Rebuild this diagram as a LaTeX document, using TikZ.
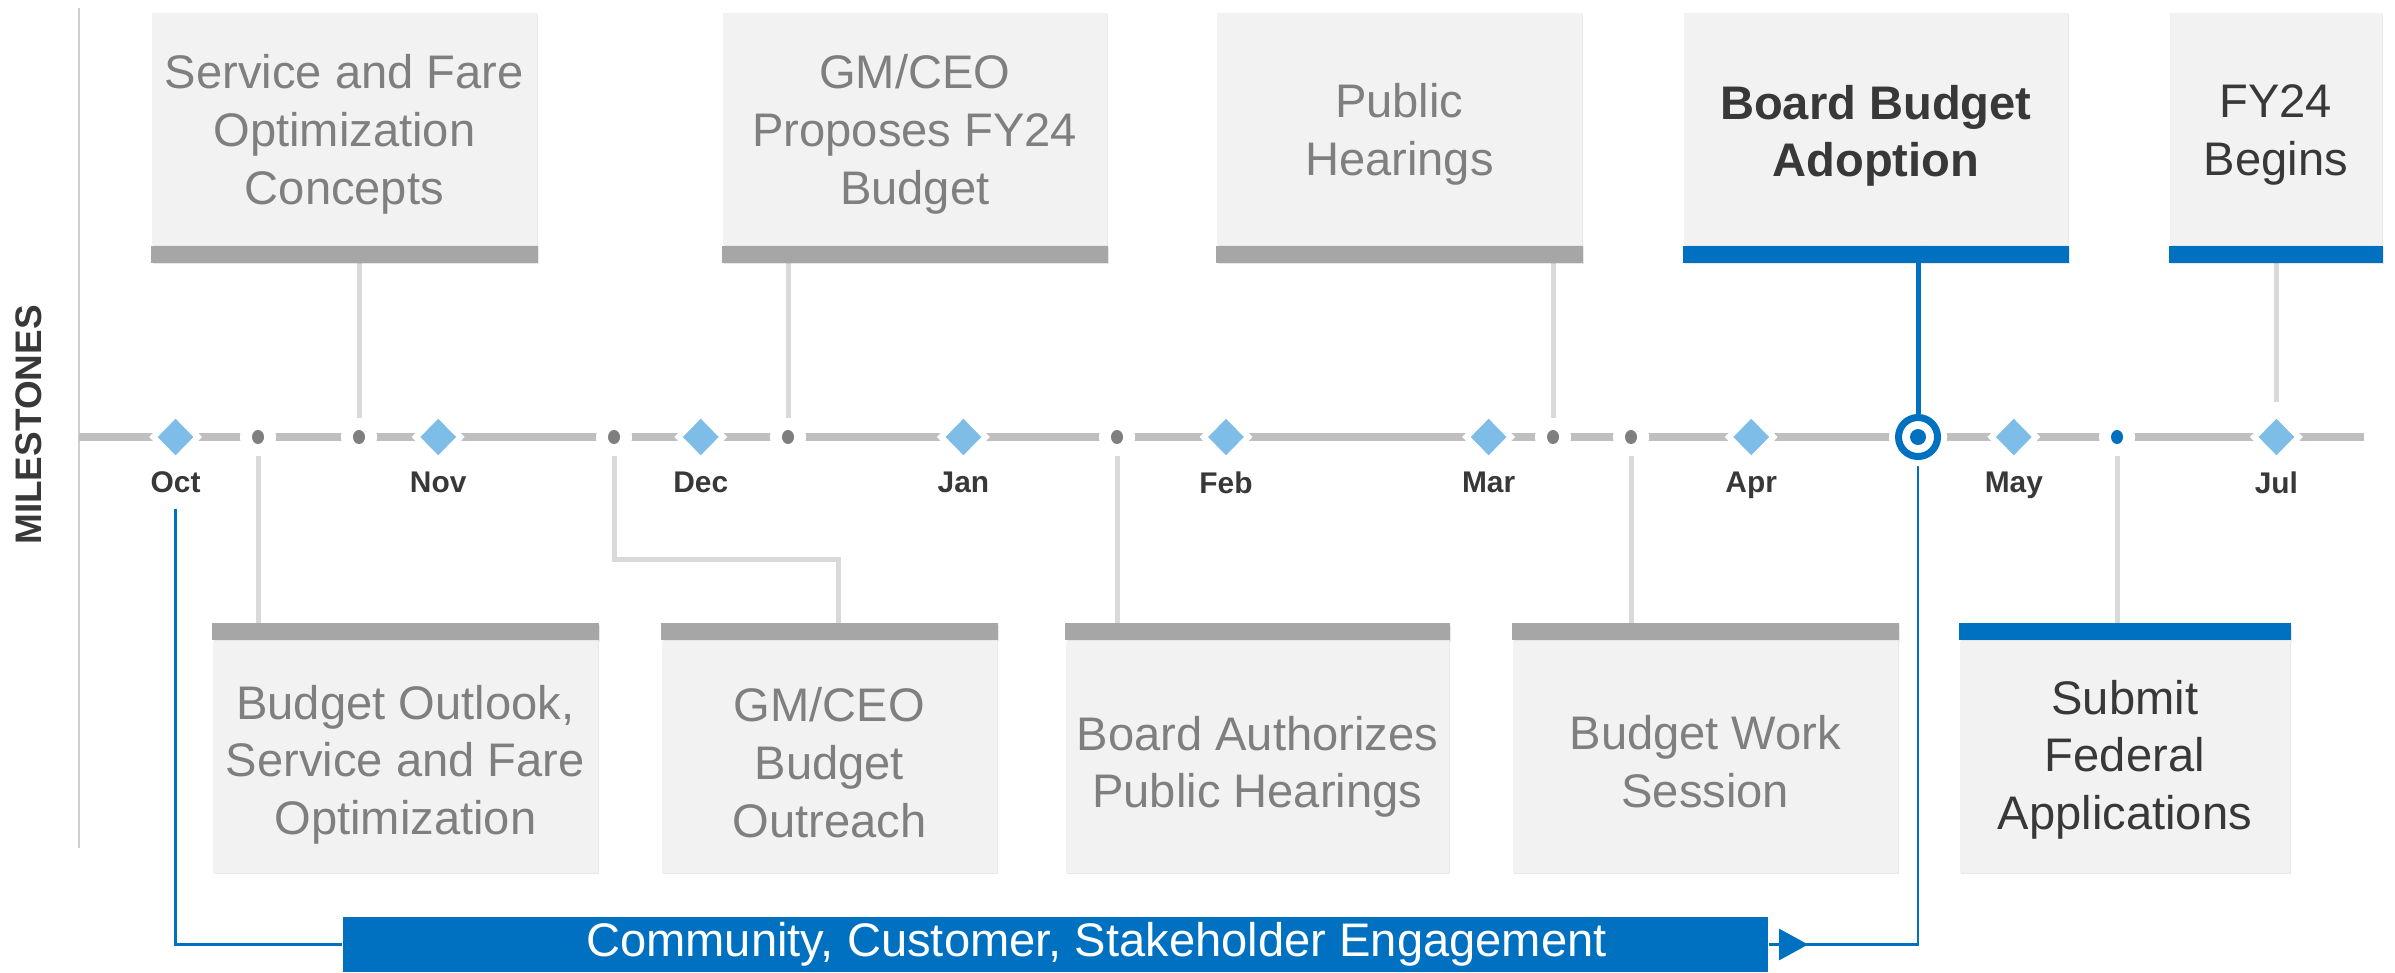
\documentclass[tikz,border=0pt]{standalone}
\usepackage{fontspec}
\setmainfont{Liberation Sans}
\usetikzlibrary{positioning,shapes.geometric,arrows.meta,backgrounds,shadows}

\definecolor{boxfill}{HTML}{F2F2F2}
\definecolor{bargray}{HTML}{A6A6A6}
\definecolor{corpblue}{HTML}{0070C0}
\definecolor{mileblue}{HTML}{7DBDE8}
\definecolor{txtgray}{HTML}{7F7F7F}
\definecolor{txtdark}{HTML}{383838}
\definecolor{dotgray}{HTML}{7F7F7F}
\definecolor{linegray}{HTML}{D9D9D9}
\definecolor{trackgray}{HTML}{BFBFBF}
\definecolor{axisgray}{HTML}{CFCFCF}

\newcommand{\boxfont}{\fontsize{13.4}{16.4}\selectfont}
\newcommand{\monthfont}{\fontsize{8.5}{10}\selectfont\bfseries}

\tikzset{
  boxshadow/.style={drop shadow={shadow xshift=0.015cm, shadow yshift=-0.015cm, opacity=0.18}},
  box/.style={fill=boxfill, inner sep=0pt, minimum height=2.32cm, anchor=north west, boxshadow},
  boxlabel/.style={font=\boxfont, text=txtgray, align=center, inner sep=0pt},
  barbelow/.style={append after command={\pgfextra{\fill[#1, boxshadow] (\tikzlastnode.south west) rectangle ([yshift=-0.17cm]\tikzlastnode.south east);}}},
  barabove/.style={append after command={\pgfextra{\fill[#1, boxshadow] ([yshift=0.17cm]\tikzlastnode.north west) rectangle (\tikzlastnode.north east);}}},
  mile/.style={diamond, fill=mileblue, draw=white, line width=0.06cm, inner sep=0pt,
    minimum width=0.47cm, minimum height=0.48cm},
  month/.style={font=\monthfont, text=txtdark, inner sep=0pt},
  evtdot/.style={circle, fill=white, inner sep=0pt, minimum size=0.36cm,
    path picture={\fill[#1] (path picture bounding box.center) ellipse (0.06cm and 0.07cm);}},
  track/.style={draw=trackgray, line width=0.08cm},
  conn/.style={draw=linegray, line width=0.05cm},
  flow/.style={draw=corpblue, line width=0.027cm},
}

\begin{document}
\begin{tikzpicture}[x=0.01cm, y=-0.01cm]
\useasboundingbox (0,0) rectangle (2395,972);

% side title
\node[rotate=90, font=\fontsize{10.5}{12}\selectfont\bfseries, text=txtdark] (title) at (29,425) {MILESTONES};

% boxes above the track
\node[box, barbelow=bargray, minimum width=3.85cm,
  label={[boxlabel, yshift=-0.055cm]center:Service and Fare\\Optimization\\Concepts}] (tSvc) at (151,12) {};
\node[box, barbelow=bargray, minimum width=3.84cm,
  label={[boxlabel, yshift=-0.055cm]center:GM/CEO\\Proposes FY24\\Budget}] (tProp) at (722,12) {};
\node[box, barbelow=bargray, minimum width=3.65cm,
  label={[boxlabel, yshift=-0.055cm]center:Public\\Hearings}] (tHear) at (1216,12) {};
\node[box, barbelow=corpblue, minimum width=3.84cm,
  label={[boxlabel, text=txtdark, font=\boxfont\bfseries, yshift=-0.07cm]center:Board Budget\\Adoption}] (tAdopt) at (1683,12) {};
\node[box, barbelow=corpblue, minimum width=2.12cm,
  label={[boxlabel, text=txtdark, yshift=-0.06cm]center:FY24\\Begins}] (tFY) at (2169,12) {};

% boxes below the track
\node[box, barabove=bargray, minimum width=3.85cm,
  label={[boxlabel, yshift=-0.08cm]center:Budget Outlook,\\Service and Fare\\Optimization}] (bOutlook) at (212,640) {};
\node[box, barabove=bargray, minimum width=3.35cm,
  label={[boxlabel, yshift=-0.06cm]center:GM/CEO\\Budget\\Outreach}] (bOutreach) at (661,640) {};
\node[box, barabove=bargray, minimum width=3.83cm,
  label={[boxlabel, yshift=-0.1cm]center:Board Authorizes\\Public Hearings}] (bAuth) at (1065,640) {};
\node[box, barabove=bargray, minimum width=3.85cm,
  label={[boxlabel, yshift=-0.05cm]center:Budget Work\\Session}] (bWork) at (1512,640) {};
\node[box, barabove=corpblue, minimum width=3.30cm,
  label={[boxlabel, text=txtdark, yshift=-0.03cm]center:Submit\\Federal\\Applications}] (bFed) at (1959,640) {};

% months
\node[mile] (dOct) at (175.6,437) {};
\node[mile] (dNov) at (438.2,437) {};
\node[mile] (dDec) at (700.8,437) {};
\node[mile] (dJan) at (963.4,437) {};
\node[mile] (dFeb) at (1226,437) {};
\node[mile] (dMar) at (1488.6,437) {};
\node[mile] (dApr) at (1751.2,437) {};
\node[mile] (dMay) at (2013.8,437) {};
\node[mile] (dJul) at (2276.4,437) {};
\node[month, below=0.07cm of dOct] (lOct) {Oct};
\node[month, below=0.07cm of dNov] (lNov) {Nov};
\node[month, below=0.07cm of dDec] (lDec) {Dec};
\node[month, below=0.07cm of dJan] (lJan) {Jan};
\node[month, below=0.07cm of dFeb] (lFeb) {Feb};
\node[month, below=0.07cm of dMar] (lMar) {Mar};
\node[month, below=0.07cm of dApr] (lApr) {Apr};
\node[month, below=0.07cm of dMay] (lMay) {May};
\node[month, below=0.07cm of dJul] (lJul) {Jul};

% events on the track
\node[evtdot=dotgray] (dOutlook) at (258,437) {};
\node[evtdot=dotgray] (dSvc) at (359,437) {};
\node[evtdot=dotgray] (dOutreach) at (614,437) {};
\node[evtdot=dotgray] (dProp) at (788,437) {};
\node[evtdot=dotgray] (dAuth) at (1117,437) {};
\node[evtdot=dotgray] (dHear) at (1553,437) {};
\node[evtdot=dotgray] (dWork) at (1631,437) {};
\node[evtdot=corpblue] (dFed) at (2117,437) {};
\node[circle, draw=corpblue, line width=0.07cm, fill=white, minimum size=0.39cm, inner sep=0pt,
  preaction={draw=white, line width=0.19cm},
  path picture={\fill[corpblue] (path picture bounding box.center) circle (0.08cm);}] (tgt) at (1918,437) {};

% engagement bar
\node[fill=corpblue, minimum width=14.25cm, minimum height=0.55cm, inner sep=0pt,
  font=\boxfont, text=white] (eng) at (1055.5,944.5) {\hspace*{0.82cm}Community, Customer, Stakeholder Engagement};
\coordinate (engStart) at (175.6,509);
\coordinate (kink) at (838,559);

\begin{scope}[on background layer]
  \draw[draw=axisgray, line width=0.02cm] (79,8) -- (79,848);
  \draw[track] (79,437) -- (2364,437);
  \draw[conn] (tSvc.south -| dSvc) -- (dSvc);
  \draw[conn] (tProp.south -| dProp) -- (dProp);
  \draw[conn] (tHear.south -| dHear) -- (dHear);
  \draw[conn, shorten >=0.08cm] (tFY.south -| dJul) -- (dJul);
  \draw[conn] (dOutlook) -- (dOutlook |- bOutlook.north);
  \draw[conn] (dOutreach) |- (kink) -- (kink |- bOutreach.north);
  \draw[conn] (dAuth) -- (dAuth |- bAuth.north);
  \draw[conn] (dWork) -- (dWork |- bWork.north);
  \draw[conn] (dFed) -- (dFed |- bFed.north);
  \draw[flow] (engStart) |- (eng.west);
  \draw[flow] (eng.east) -| (tgt);
  \draw[flow, -{Triangle[length=0.29cm, width=0.31cm]}] (eng.east) -- ++(39,0);
\end{scope}
\draw[conn, draw=corpblue] (tAdopt.south -| tgt) -- (tgt);
\end{tikzpicture}
\end{document}
